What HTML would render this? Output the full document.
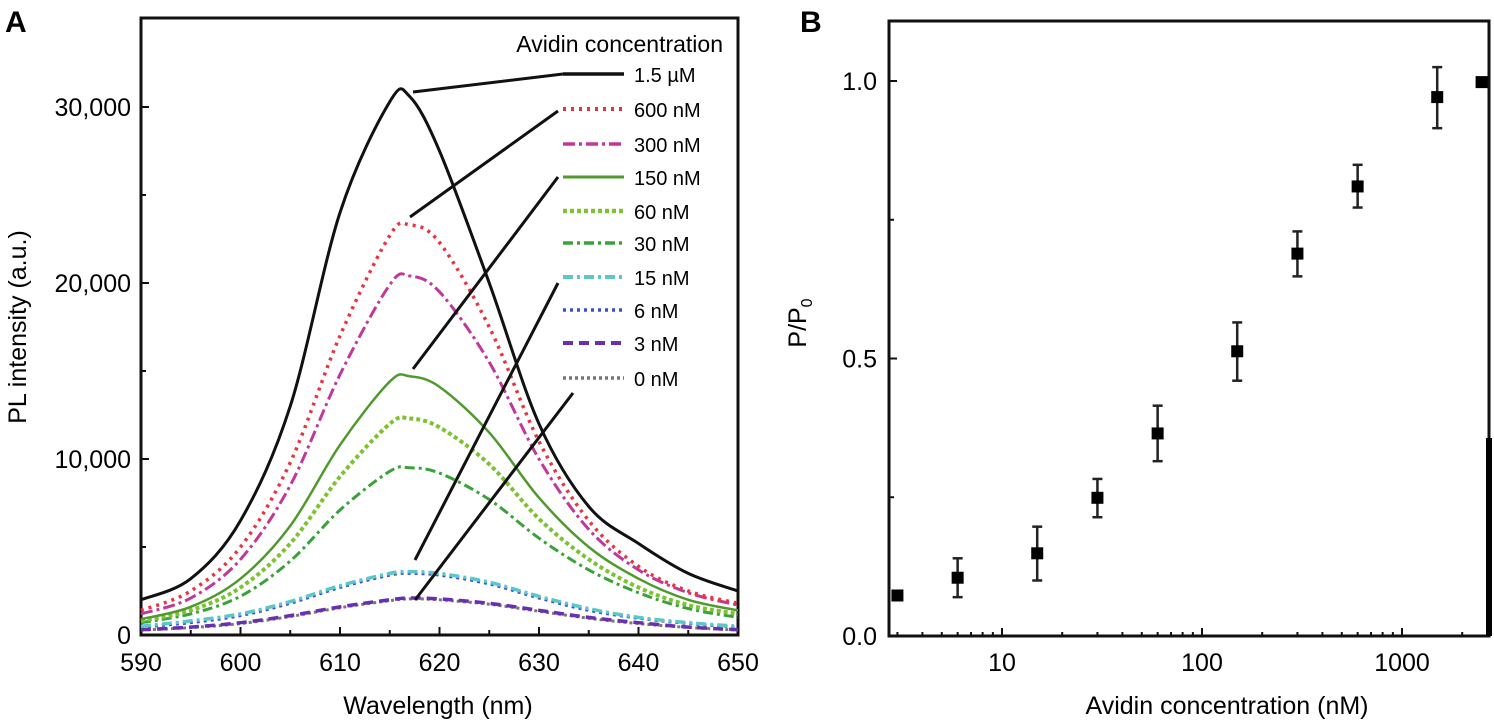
<!DOCTYPE html>
<html><head><meta charset="utf-8"><style>
html,body{margin:0;padding:0;background:#fff;}
svg{display:block;font-family:"Liberation Sans",Arial,sans-serif;}
</style></head><body>
<svg id="fig" width="1494" height="722" viewBox="0 0 1494 722">
<g id="panelA"></g>
<g id="panelB"></g>
</svg>
<script>
// ---------- Panel A data ----------
const wavelengths = [590,595,600,605,610,615,617,620,625,630,635,640,645,650];
const seriesLabels = ["1.5 µM","600 nM","300 nM","150 nM","60 nM","30 nM","15 nM","6 nM","3 nM","0 nM"];
const s1500 = [2000,3200,6500,13000,24000,30300,30600,27500,20000,12000,7300,5200,3500,2500];
const s600 = [1400,2500,5000,9800,17000,22700,23300,22300,17500,11000,6500,3900,2500,1800];
const s300 = [1200,2100,4300,8500,14800,19900,20400,19500,15500,10000,6000,3700,2400,1700];
const s150 = [900,1600,3200,6200,10800,14400,14700,14100,11500,7800,5000,3200,2000,1400];
const s60 = [800,1400,2700,5200,9000,12000,12300,11800,9700,6600,4300,2700,1700,1200];
const s30 = [700,1200,2200,4200,7100,9300,9500,9200,7700,5500,3700,2400,1500,1000];
const s15 = [500,800,1200,1900,2800,3500,3600,3500,3000,2200,1500,1000,700,500];
const s6 = [450,700,1100,1800,2700,3400,3500,3400,2900,2100,1400,950,650,450];
const s3 = [300,450,700,1100,1600,2000,2100,2050,1800,1400,1000,700,450,300];
const s0 = [280,420,650,1050,1550,1950,2050,2000,1750,1350,950,650,430,280];
const xTicksA = [590,600,610,620,630,640,650];
const yTicksA = [0,10000,20000,30000];
const yTickLabelsA = ["0","10,000","20,000","30,000"];
// ---------- Panel B data ----------
const concentrations = [3,6,15,30,60,150,300,600,1500,2500];
const ratios = [0.073,0.105,0.149,0.249,0.365,0.513,0.689,0.810,0.971,0.998];
const errLow = [0.073,0.070,0.100,0.214,0.315,0.460,0.648,0.772,0.915,0.998];
const errHigh = [0.073,0.140,0.197,0.283,0.415,0.565,0.729,0.849,1.025,0.998];
const xTicksB = [10,100,1000];
const yTicksB = [0,0.5,1.0];
const yTickLabelsB = ["0.0","0.5","1.0"];

const NS="http://www.w3.org/2000/svg";
function mk(parent,tag,attrs,text){const e=document.createElementNS(NS,tag);for(const k in attrs)e.setAttribute(k,attrs[k]);if(text!==undefined)e.textContent=text;parent.appendChild(e);return e;}

// ---- Panel A ----
const A=document.getElementById('panelA');
const aL=141,aR=738,aT=18,aB=635;
const xA=v=>aL+(v-590)/60*(aR-aL);
const yA=v=>aB-v*(aB-107)/30000;
let t;
t=mk(A,'text',{x:5,y:32,'font-size':30,'font-weight':'bold'},'A');


t=mk(A,'rect',{x:aL,y:aT,width:aR-aL,height:aB-aT,fill:'none',stroke:'#111','stroke-width':3});


for(let w=590;w<=650;w+=5){const l=mk(A,'line',{x1:xA(w),x2:xA(w),y1:aB,y2:aB-(w%10===0?8:5),stroke:'#111','stroke-width':2});

}
for(let v=5000;v<35000;v+=5000){const l=mk(A,'line',{x1:aL,x2:aL+(v%10000===0?8:5),y1:yA(v),y2:yA(v),stroke:'#111','stroke-width':2});

}
xTicksA.forEach(v=>{const e=mk(A,'text',{x:xA(v),y:671,'font-size':25,'text-anchor':'middle'},String(v));

});
yTicksA.forEach((v,i)=>{const e=mk(A,'text',{x:131,y:yA(v)+9,'font-size':25,'text-anchor':'end'},yTickLabelsA[i]);

});
t=mk(A,'text',{x:438,y:714,'font-size':25,'text-anchor':'middle'},'Wavelength (nm)');


t=mk(A,'text',{x:0,y:0,'font-size':25,'text-anchor':'middle',transform:'translate(26,327) rotate(-90)'},'PL intensity (a.u.)');



const styles=[
 {c:'#111',d:'',w:3},
 {c:'#e8343f',d:'3 5',w:3.5},
 {c:'#c0399a',d:'12 4 3 4',w:3},
 {c:'#4f9a2c',d:'',w:2.5},
 {c:'#7cc232',d:'4 3',w:4},
 {c:'#3aa23a',d:'10 4 3 4',w:3},
 {c:'#5cc7c9',d:'10 4 3 4',w:3.5},
 {c:'#3a4fd0',d:'3 4',w:3},
 {c:'#6a2fb0',d:'10 6',w:3.5},
 {c:'#777',d:'3 3',w:3}];
const allSeries=[s1500,s600,s300,s150,s60,s30,s15,s6,s3,s0];
function smoothPath(pts){let d='M'+pts[0][0]+','+pts[0][1];for(let i=0;i<pts.length-1;i++){const p0=pts[Math.max(0,i-1)],p1=pts[i],p2=pts[i+1],p3=pts[Math.min(pts.length-1,i+2)];
const c1=[p1[0]+(p2[0]-p0[0])/6,p1[1]+(p2[1]-p0[1])/6],c2=[p2[0]-(p3[0]-p1[0])/6,p2[1]-(p3[1]-p1[1])/6];
d+=' C'+c1[0]+','+c1[1]+' '+c2[0]+','+c2[1]+' '+p2[0]+','+p2[1];}return d;}
for(let k=allSeries.length-1;k>=0;k--){const pts=wavelengths.map((w,i)=>[xA(w),yA(allSeries[k][i])]);
const p=mk(A,'path',{d:smoothPath(pts),fill:'none',stroke:styles[k].c,'stroke-width':styles[k].w,'stroke-dasharray':styles[k].d});

}
// legend
t=mk(A,'text',{x:723,y:52,'font-size':23,'text-anchor':'end'},'Avidin concentration');


const rows=[74,109,144,177,211,243,277,310,343,378];
seriesLabels.forEach((lab,k)=>{const g=mk(A,'g',{});


mk(g,'line',{x1:563,x2:624,y1:rows[k],y2:rows[k],stroke:styles[k].c,'stroke-width':styles[k].w+0.5,'stroke-dasharray':styles[k].d});
mk(g,'text',{x:634,y:rows[k]+8,'font-size':20},lab);});
// pointer lines
[[563,74,413,92],[558,111,410,217],[558,177,413,369],[558,283,415,560],[573,393,415,600]].forEach(q=>{const l=mk(A,'line',{x1:q[0],y1:q[1],x2:q[2],y2:q[3],stroke:'#111','stroke-width':3});

});

// ---- Panel B ----
const B=document.getElementById('panelB');
const bL=889,bR=1489,bT=21,bB=636;
const xB=v=>1002+(Math.log10(v)-1)*200;
const yB=v=>bB-v*555;
t=mk(B,'text',{x:800,y:32,'font-size':30,'font-weight':'bold'},'B');


t=mk(B,'rect',{x:bL,y:bT,width:bR-bL,height:bB-bT,fill:'none',stroke:'#111','stroke-width':3});


t=mk(B,'rect',{x:bR-3,y:438,width:6,height:bB-438,fill:'#000'});


for(let dec=1;dec<=1000;dec*=10){for(let m=1;m<10;m++){const v=dec*m;if(v<3||v>2700)continue;
const l=mk(B,'line',{x1:xB(v),x2:xB(v),y1:bB,y2:bB-(m===1?8:4),stroke:'#111','stroke-width':2});

}}
[0.25,0.5,0.75,1.0].forEach(v=>{const l=mk(B,'line',{x1:bL,x2:bL+(v===0.5||v===1?8:5),y1:yB(v),y2:yB(v),stroke:'#111','stroke-width':2});

});
xTicksB.forEach(v=>{const e=mk(B,'text',{x:xB(v),y:671,'font-size':25,'text-anchor':'middle'},String(v));

});
yTicksB.forEach((v,i)=>{const e=mk(B,'text',{x:877,y:yB(v)+9,'font-size':25,'text-anchor':'end'},yTickLabelsB[i]);

});
t=mk(B,'text',{x:1227,y:714,'font-size':25,'text-anchor':'middle'},'Avidin concentration (nM)');


t=mk(B,'text',{x:0,y:0,'font-size':25,'text-anchor':'middle',transform:'translate(806,323) rotate(-90)'});


t.appendChild(document.createTextNode('P/P'));
mk(t,'tspan',{'font-size':16,dy:6},'0');
concentrations.forEach((c,i)=>{const g=mk(B,'g',{});


const x=xB(c);
if(errHigh[i]-errLow[i]>0.001){
mk(g,'line',{x1:x,x2:x,y1:yB(errLow[i]),y2:yB(errHigh[i]),stroke:'#222','stroke-width':2.5});
mk(g,'line',{x1:x-5,x2:x+5,y1:yB(errLow[i]),y2:yB(errLow[i]),stroke:'#222','stroke-width':2.5});
mk(g,'line',{x1:x-5,x2:x+5,y1:yB(errHigh[i]),y2:yB(errHigh[i]),stroke:'#222','stroke-width':2.5});}
mk(g,'rect',{x:x-6,y:yB(ratios[i])-6,width:12,height:12,fill:'#000'});});
</script>
</body></html>
